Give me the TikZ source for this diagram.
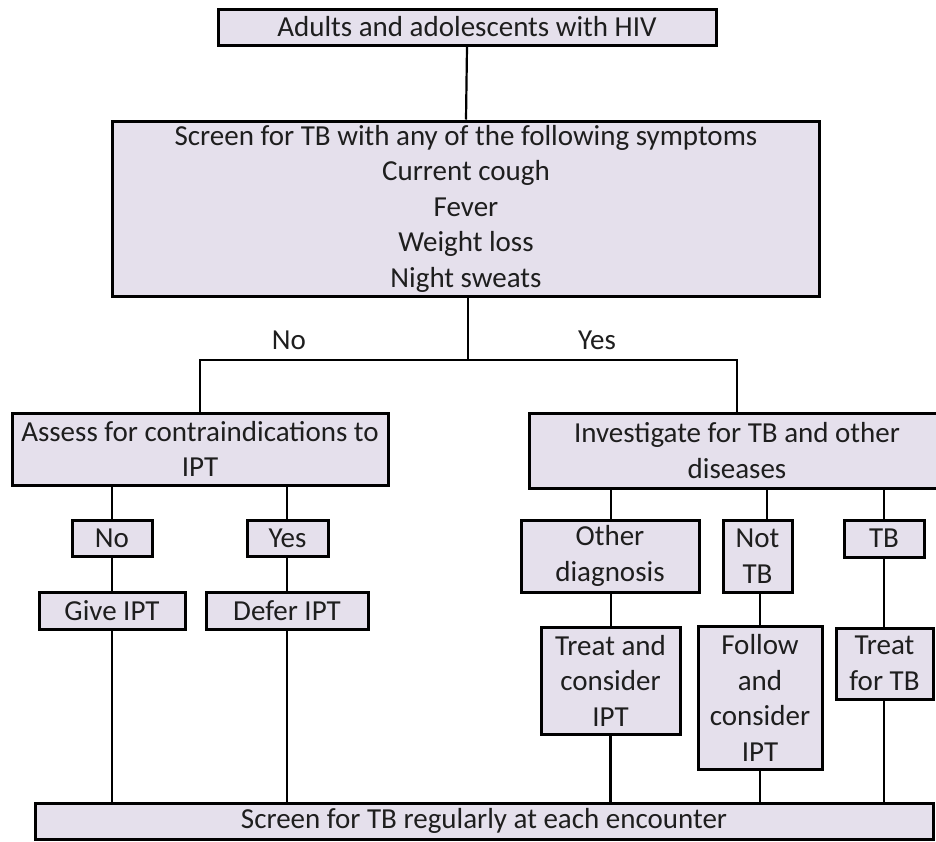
\documentclass[tikz,border=0pt]{standalone}
\usepackage{fontspec}
\setmainfont{Carlito}
\definecolor{boxfill}{RGB}{229,224,236}
\definecolor{txt}{RGB}{30,30,30}
\begin{document}
\begin{tikzpicture}[x=1pt,y=-1pt,
  box/.style={draw=black, line width=3pt, fill=boxfill, rectangle, inner sep=0pt,
    align=center, text=txt, font=\fontsize{29}{35.5}\selectfont},
  lab/.style={inner sep=0pt, text=txt, font=\fontsize{29}{35.5}\selectfont},
  conn/.style={draw=black, line width=2.2pt}]
\useasboundingbox (0,0) rectangle (936,841);
\fill[white] (0,0) rectangle (936,841);

\node[box, minimum width=498pt, minimum height=36pt] (top) at (467,27) {Adults and adolescents with HIV};
\node[box, minimum width=707pt, minimum height=175pt] (screen) at (466,208.5)
  {\raisebox{0pt}[0pt][0pt]{}Screen for TB with any of the following symptoms\\Current cough\\Fever\\Weight loss\\Night sweats};
\node[box, minimum width=376pt, minimum height=72pt] (assess) at (200,449)
  {Assess for contraindications to\\IPT};
\node[box, minimum width=416pt, minimum height=75pt] (invest) at (737,450.5)
  {Investigate for TB and other\\diseases};

\node[box, minimum width=80pt, minimum height=36pt] (no1) at (112,538) {No};
\node[box, minimum width=81pt, minimum height=36pt] (yes1) at (287.5,538) {Yes};
\node[box, minimum width=146pt, minimum height=37pt] (give) at (112,610.5) {Give IPT};
\node[box, minimum width=162pt, minimum height=37pt] (defer) at (287,610.5) {Defer IPT};

\node[box, minimum width=178pt, minimum height=72pt] (other) at (610,556) {Other\\diagnosis};
\node[box, minimum width=69pt, minimum height=72pt] (nottb) at (757.5,556) {Not\\TB};
\node[box, minimum width=80pt, minimum height=37pt] (tb) at (884,538.5) {TB};

\node[box, minimum width=139pt, minimum height=107pt] (treatc) at (610.5,680.5) {Treat and\\consider\\IPT};
\node[box, minimum width=124pt, minimum height=143pt] (follow) at (760,698) {Follow\\and\\consider\\IPT};
\node[box, minimum width=97pt, minimum height=71pt] (treattb) at (884.5,663.5) {Treat\\for TB};

\node[box, minimum width=898pt, minimum height=36pt] (bottom) at (484,821) {Screen for TB regularly at each encounter};

\node[lab] (nolab) at (289,340) {No};
\node[lab] (yeslab) at (597,340) {Yes};

\coordinate (split) at (468,360);

\draw[conn] (top.south) -- (screen.north);
\draw[conn] ([xshift=2pt]screen.south) -- (split);
\draw[conn] (assess.north) |- (split) -| (invest.north);

\draw[conn] (no1.north) -- (no1.north |- assess.south);
\draw[conn] (yes1.north -| defer.north) -- (defer.north |- assess.south);
\draw[conn] (no1.south) -- (give.north);
\draw[conn] (yes1.south -| defer.north) -- (defer.north);
\draw[conn] (give.south) -- (give.south |- bottom.north);
\draw[conn] (defer.south) -- (defer.south |- bottom.north);

\draw[conn] ([xshift=1pt]other.north) -- ([xshift=1pt]other.north |- invest.south);
\draw[conn] ([xshift=9.5pt]nottb.north) -- ([xshift=9.5pt]nottb.north |- invest.south);
\draw[conn] (tb.north) -- (tb.north |- invest.south);
\draw[conn] ([xshift=1pt]other.south) -- ([xshift=1pt]other.south |- treatc.north);
\draw[conn] (nottb.south -| follow.north) -- (follow.north);
\draw[conn] (tb.south) -- (tb.south |- treattb.north);
\draw[conn] (treatc.south) -- (treatc.south |- bottom.north);
\draw[conn] (follow.south) -- (follow.south |- bottom.north);
\draw[conn] (treattb.south -| tb.south) -- (tb.south |- bottom.north);
\end{tikzpicture}
\end{document}
